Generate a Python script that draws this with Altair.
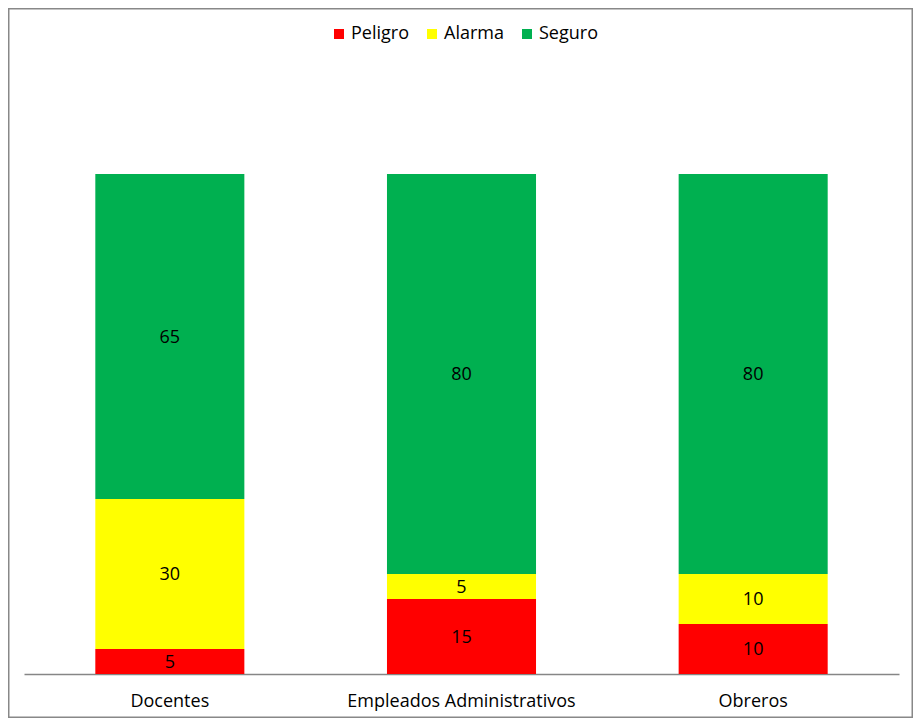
import altair as alt
import pandas as pd

categories = ["Docentes", "Empleados Administrativos", "Obreros"]
niveles = ["Peligro", "Alarma", "Seguro"]
peligro = [5, 15, 10]
alarma = [30, 5, 10]
seguro = [65, 80, 80]
colores = ["#FF0000", "#FFFF00", "#00B050"]

rows = []
for i, c in enumerate(categories):
    for j, (n, vals) in enumerate(zip(niveles, [peligro, alarma, seguro])):
        rows.append({"categoria": c, "nivel": n, "valor": vals[i], "orden": j})
df = pd.DataFrame(rows)

FONT = "Open Sans"
W, H = 905, 710

xscale = alt.Scale(domain=categories, range=[16, 891], paddingInner=0.489, paddingOuter=0.2445)
yscale = alt.Scale(domain=[0, 100], range=[666, 166])

x_enc = alt.X(
    "categoria:N",
    sort=categories,
    scale=xscale,
    axis=alt.Axis(
        title=None, labelAngle=0, ticks=False, domainColor="#868686", domainWidth=1.3,
        labelFont=FONT, labelFontSize=18, labelColor="black", labelPadding=18,
        labelLimit=0, offset=-44, grid=False,
    ),
)

bars = alt.Chart(df).mark_bar().encode(
    x=x_enc,
    y=alt.Y("valor:Q", stack="zero", scale=yscale, axis=None),
    color=alt.Color(
        "nivel:N",
        sort=niveles,
        scale=alt.Scale(domain=niveles, range=colores),
        legend=alt.Legend(
            title=None, orient="none", direction="horizontal", legendX=322, legendY=17,
            symbolType="square", symbolSize=100, symbolStrokeWidth=0,
            labelFont=FONT, labelFontSize=18, labelColor="black",
            labelOffset=3, columnPadding=14, padding=0,
        ),
    ),
    order=alt.Order("orden:Q", sort="ascending"),
)

labels = (
    alt.Chart(df)
    .transform_stack(stack="valor", groupby=["categoria"], as_=["y0", "y1"],
                     sort=[alt.SortField("orden", order="ascending")])
    .transform_calculate(mid="(datum.y0 + datum.y1) / 2")
    .mark_text(font=FONT, fontSize=18, color="black", baseline="middle", align="center", dy=1)
    .encode(
        x=alt.X("categoria:N", sort=categories, scale=xscale),
        y=alt.Y("mid:Q", scale=yscale, axis=None),
        text=alt.Text("valor:Q"),
    )
)

chart = (
    alt.layer(bars, labels)
    .properties(width=W, height=H, padding=0, background="white")
    .configure_view(stroke="#888888", strokeWidth=3)
)

chart.save("out.html", embed_options={"renderer": "svg", "actions": False})
